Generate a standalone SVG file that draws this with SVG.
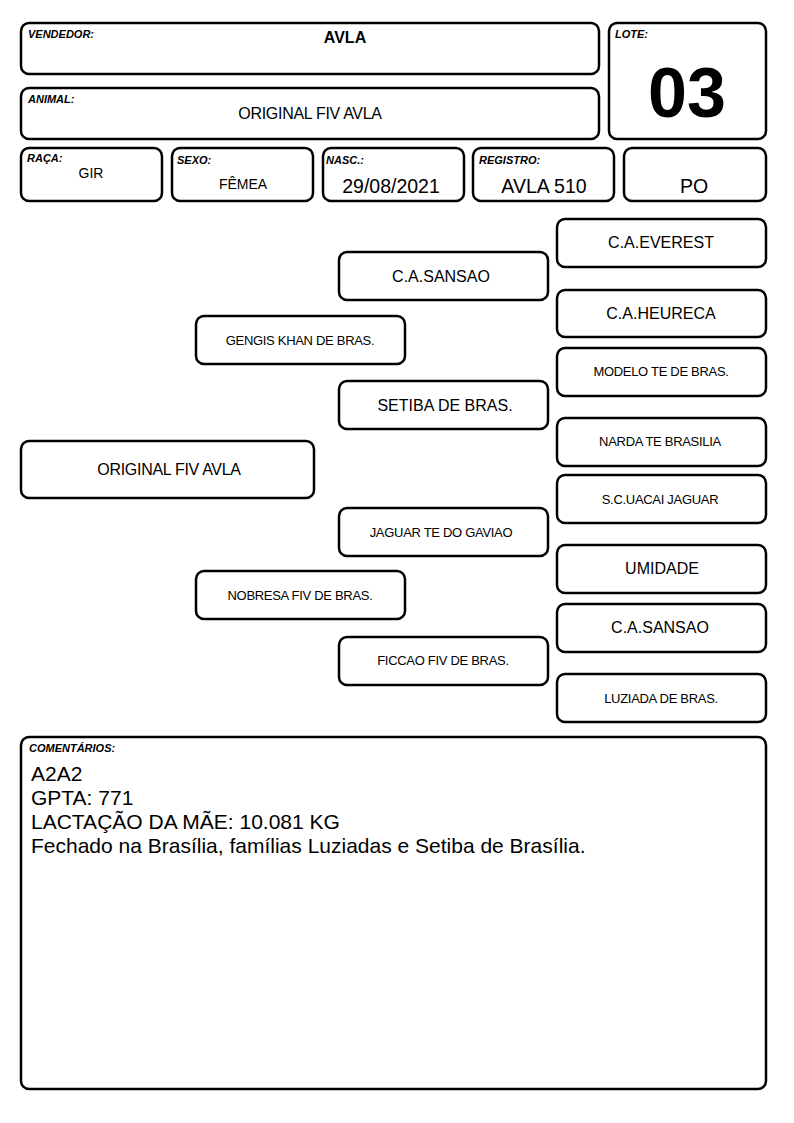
<svg xmlns="http://www.w3.org/2000/svg" width="794" height="1123" viewBox="0 0 794 1123">
<style>
rect.b{fill:#fff;stroke:#000;stroke-width:2.5}
text{font-family:"Liberation Sans",Arial,sans-serif;fill:#000}
.lbl{font-size:11px;font-weight:bold;font-style:italic}
.c{text-anchor:middle}
.s16{font-size:16px}
.s13{font-size:13px;letter-spacing:-0.3px}
.s14{font-size:14px}
.s18{font-size:19.5px}
.s20{font-size:21px}
</style>
<rect width="794" height="1123" fill="#fff"/>
<g id="vendedor"><rect class="b" x="21" y="23" width="578" height="51" rx="8"/><text class="lbl" x="28" y="38">VENDEDOR:</text><text class="c s16" x="345" y="43" font-weight="bold">AVLA</text></g>
<g id="animal"><rect class="b" x="21" y="88" width="578" height="51" rx="8"/><text class="lbl" x="28" y="103">ANIMAL:</text><text class="c s16" x="310" y="119" letter-spacing="-0.3">ORIGINAL FIV AVLA</text></g>
<g id="lote"><rect class="b" x="609" y="23" width="157" height="116" rx="8"/><text class="lbl" x="615" y="38">LOTE:</text><text class="c" x="687" y="117" font-size="70" font-weight="bold">03</text></g>
<g id="raca"><rect class="b" x="21" y="148" width="141" height="53" rx="8"/><text class="lbl" x="27" y="162">RAÇA:</text><text class="c s14" x="91" y="178">GIR</text></g>
<g id="sexo"><rect class="b" x="172" y="148" width="141" height="53" rx="8"/><text class="lbl" x="177" y="164">SEXO:</text><text class="c s14" x="243" y="189">FÊMEA</text></g>
<g id="nasc"><rect class="b" x="323" y="148" width="141" height="53" rx="8"/><text class="lbl" x="326" y="164">NASC.:</text><text class="c s18" x="391" y="193">29/08/2021</text></g>
<g id="registro"><rect class="b" x="473" y="148" width="141" height="53" rx="8"/><text class="lbl" x="479" y="164">REGISTRO:</text><text class="c s18" x="544" y="193">AVLA 510</text></g>
<g id="po"><rect class="b" x="624" y="148" width="142" height="53" rx="8"/><text class="c s18" x="694" y="193">PO</text></g>
<g id="connectors"></g>
<g id="p-animal"><rect class="b" x="21" y="441" width="293" height="57" rx="8"/><text class="c s16" x="169" y="475" letter-spacing="-0.3">ORIGINAL FIV AVLA</text></g>
<g id="p-sire"><rect class="b" x="196" y="316" width="209" height="48" rx="8"/><text class="c s13" x="300" y="345">GENGIS KHAN DE BRAS.</text></g>
<g id="p-dam"><rect class="b" x="196" y="571" width="209" height="48" rx="8"/><text class="c s13" x="300" y="600">NOBRESA FIV DE BRAS.</text></g>
<g id="p-ss"><rect class="b" x="339" y="252" width="209" height="48" rx="8"/><text class="c s16" x="441" y="282">C.A.SANSAO</text></g>
<g id="p-sd"><rect class="b" x="339" y="381" width="209" height="48" rx="8"/><text class="c s16" x="445" y="411">SETIBA DE BRAS.</text></g>
<g id="p-ds"><rect class="b" x="339" y="508" width="209" height="48" rx="8"/><text class="c s13" x="441" y="537">JAGUAR TE DO GAVIAO</text></g>
<g id="p-dd"><rect class="b" x="339" y="637" width="209" height="48" rx="8"/><text class="c s13" x="443" y="665">FICCAO FIV DE BRAS.</text></g>
<g id="p-sss"><rect class="b" x="557" y="219" width="209" height="48" rx="8"/><text class="c s16" x="661" y="248">C.A.EVEREST</text></g>
<g id="p-ssd"><rect class="b" x="557" y="290" width="209" height="47" rx="8"/><text class="c s16" x="661" y="319">C.A.HEURECA</text></g>
<g id="p-sds"><rect class="b" x="557" y="348" width="209" height="48" rx="8"/><text class="c s13" x="661" y="376">MODELO TE DE BRAS.</text></g>
<g id="p-sdd"><rect class="b" x="557" y="418" width="209" height="48" rx="8"/><text class="c s13" x="660" y="446">NARDA TE BRASILIA</text></g>
<g id="p-dss"><rect class="b" x="557" y="475" width="209" height="48" rx="8"/><text class="c s13" x="660" y="504">S.C.UACAI JAGUAR</text></g>
<g id="p-dsd"><rect class="b" x="557" y="545" width="209" height="48" rx="8"/><text class="c s16" x="662" y="574">UMIDADE</text></g>
<g id="p-dds"><rect class="b" x="557" y="604" width="209" height="48" rx="8"/><text class="c s16" x="660" y="633">C.A.SANSAO</text></g>
<g id="p-ddd"><rect class="b" x="557" y="674" width="209" height="48" rx="8"/><text class="c s13" x="661" y="703">LUZIADA DE BRAS.</text></g>
<g id="comentarios"><rect class="b" x="21" y="737" width="745" height="352" rx="8"/><text class="lbl" x="29" y="752">COMENTÁRIOS:</text>
<text class="s20" x="31" y="781">A2A2</text>
<text class="s20" x="31" y="805">GPTA: 771</text>
<text class="s20" x="31" y="829">LACTAÇÃO DA MÃE: 10.081 KG</text>
<text class="s20" x="31" y="853">Fechado na Brasília, famílias Luziadas e Setiba de Brasília.</text></g>
</svg>
